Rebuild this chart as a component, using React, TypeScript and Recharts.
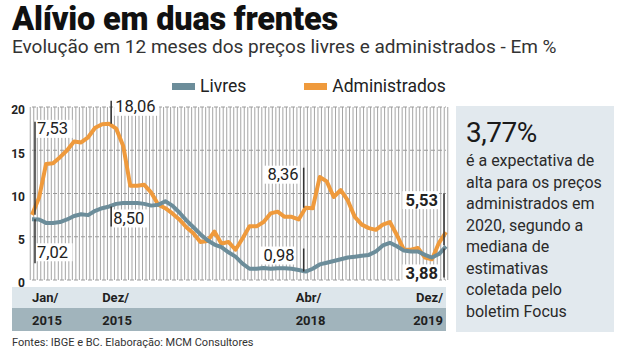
import React from "react";
import { LineChart, Line, XAxis, YAxis, CartesianGrid, Legend } from "recharts";

const months = [
  "Jan/15", "Fev/15", "Mar/15", "Abr/15", "Mai/15", "Jun/15", "Jul/15", "Ago/15", "Set/15", "Out/15", "Nov/15", "Dez/15",
  "Jan/16", "Fev/16", "Mar/16", "Abr/16", "Mai/16", "Jun/16", "Jul/16", "Ago/16", "Set/16", "Out/16", "Nov/16", "Dez/16",
  "Jan/17", "Fev/17", "Mar/17", "Abr/17", "Mai/17", "Jun/17", "Jul/17", "Ago/17", "Set/17", "Out/17", "Nov/17", "Dez/17",
  "Jan/18", "Fev/18", "Mar/18", "Abr/18", "Mai/18", "Jun/18", "Jul/18", "Ago/18", "Set/18", "Out/18", "Nov/18", "Dez/18",
  "Jan/19", "Fev/19", "Mar/19", "Abr/19", "Mai/19", "Jun/19", "Jul/19", "Ago/19", "Set/19", "Out/19", "Nov/19", "Dez/19",
];

const livres = [
  7.02, 7.0, 6.6, 6.6, 6.7, 7.0, 7.4, 7.6, 7.5, 8.0, 8.3, 8.5,
  8.8, 8.9, 8.9, 8.9, 8.8, 8.6, 8.7, 9.1, 8.6, 7.8, 6.9, 6.1,
  5.3, 4.6, 4.1, 3.8, 3.2, 2.7, 1.9, 1.3, 1.3, 1.4, 1.3, 1.35,
  1.35, 1.3, 1.15, 0.98, 1.3, 1.8, 2.0, 2.2, 2.4, 2.6, 2.7, 2.8,
  2.9, 3.3, 4.0, 4.3, 3.9, 3.4, 3.3, 3.3, 2.9, 2.6, 3.0, 3.88,
];

const administrados = [
  7.53, 9.5, 13.4, 13.5, 14.2, 15.0, 16.0, 15.9, 16.5, 17.6, 18.0, 18.06,
  17.5, 15.5, 10.9, 10.9, 11.0, 10.1, 8.7, 8.3, 7.7, 7.0, 6.1, 5.4,
  4.4, 4.5, 5.6, 4.2, 4.4, 3.5, 4.8, 6.2, 6.2, 6.7, 7.7, 7.9,
  7.3, 7.3, 7.0, 8.36, 8.3, 11.9, 11.4, 9.6, 10.4, 9.2, 7.3, 6.4,
  6.0, 5.8, 6.4, 6.7, 5.2, 3.5, 3.5, 3.7, 2.6, 2.4, 4.3, 5.53,
];

const yTicks = [0, 5, 10, 15, 20];

const xLabels: Record<string, [string, string]> = {
  "Jan/15": ["Jan/", "2015"],
  "Dez/15": ["Dez/", "2015"],
  "Abr/18": ["Abr/", "2018"],
  "Dez/19": ["Dez/", "2019"],
};

const seriesOrder = ["Livres", "Administrados"];
const BLUE = "#6c8d9a";
const ORANGE = "#ef9a3c";
const FONT = "Roboto, 'Liberation Sans', sans-serif";

const data = months.map((m, i) => ({ m, livres: livres[i], adm: administrados[i] }));

const tickPlace: Record<string, { anchor: "start" | "end"; dx: number }> = {
  "Jan/15": { anchor: "start", dx: 0 },
  "Dez/15": { anchor: "start", dx: -7 },
  "Abr/18": { anchor: "start", dx: -10 },
  "Dez/19": { anchor: "end", dx: -3 },
};

function MonthTick({ x, y, payload }: any) {
  const lab = xLabels[payload?.value];
  if (!lab) return <g />;
  const p = tickPlace[payload.value];
  return (
    <g fontFamily={FONT} fontWeight={700} fontSize={13} fill="#1f1f1f">
      <text x={x + p.dx} y={y + 17} textAnchor={p.anchor} dominantBaseline="central">
        {lab[0]}
      </text>
      <text x={x + p.dx} y={y + 40} textAnchor={p.anchor} dominantBaseline="central">
        {lab[1]}
      </text>
    </g>
  );
}

type Note = {
  i: number;
  y1: number;
  y2: number;
  dx: number;
  tx: number;
  ty: number;
  anchor: "start" | "end";
  bold?: boolean;
};

const admNotes: Note[] = [
  { i: 0, y1: -93, y2: 0, dx: 3, tx: 5, ty: -86, anchor: "start" },
  { i: 11, y1: -23, y2: 0, dx: 2, tx: 6, ty: -17, anchor: "start" },
  { i: 39, y1: -40, y2: 0, dx: -2, tx: -7, ty: -33, anchor: "end" },
  { i: 59, y1: -39, y2: 13, dx: -2, tx: -8, ty: -32, anchor: "end", bold: true },
];

const livNotes: Note[] = [
  { i: 0, y1: 0, y2: 44, dx: 3, tx: 5, ty: 33, anchor: "start" },
  { i: 11, y1: 0, y2: 20, dx: 2, tx: 4, ty: 12, anchor: "start" },
  { i: 39, y1: -23, y2: 0, dx: -2, tx: -11, ty: -16, anchor: "end" },
  { i: 59, y1: 2, y2: 31, dx: -2, tx: -8, ty: 27, anchor: "end", bold: true },
];

function noteDot(notes: Note[], values: number[]) {
  return (props: any) => {
    const { cx, cy, index } = props;
    const n = notes.find((k) => k.i === index);
    if (!n || cx == null || cy == null) return <g key={`d${index}`} />;
    const label = values[index].toFixed(2).replace(".", ",");
    const w = label.length * 8.4 + 3;
    const tx = cx + n.tx;
    const rx = n.anchor === "start" ? tx - 1 : tx - w + 1;
    return (
      <g key={`d${index}`}>
        <rect x={rx} y={cy + n.ty - 9} width={w} height={18} fill="#fff" />
        <line
          x1={cx + n.dx}
          x2={cx + n.dx}
          y1={cy + n.y1}
          y2={cy + n.y2}
          stroke="#333"
          strokeWidth={1.5}
        />
        <text
          x={tx}
          y={cy + n.ty}
          textAnchor={n.anchor}
          dominantBaseline="central"
          fontFamily={FONT}
          fontSize={16.5}
          fontWeight={n.bold ? 700 : 400}
          fill="#222"
        >
          {label}
        </text>
      </g>
    );
  };
}

function LegendBox({ payload }: any) {
  const items = [...(payload ?? [])].sort(
    (a: any, b: any) => seriesOrder.indexOf(a.value) - seriesOrder.indexOf(b.value)
  );
  return (
    <div style={{ display: "flex", alignItems: "center", fontFamily: FONT, fontSize: 17.5, color: "#222" }}>
      {items.map((it: any) => (
        <div key={it.value} style={{ display: "flex", alignItems: "center", marginRight: 58 }}>
          <span style={{ width: 23, height: 7, background: it.color, marginRight: 5, display: "inline-block" }} />
          <span>{it.value}</span>
        </div>
      ))}
    </div>
  );
}

export default function App() {
  return (
    <div
      style={{
        position: "absolute",
        left: 0,
        top: 0,
        width: 628,
        height: 350,
        overflow: "hidden",
        background: "#fff",
        fontFamily: FONT,
      }}
    >
      <div style={{ position: "absolute", left: 12, top: 0, fontSize: 32.5, fontWeight: 900, color: "#111", lineHeight: "38px", letterSpacing: -0.2 }}>
        Alívio em duas frentes
      </div>
      <div style={{ position: "absolute", left: 12, top: 35, fontSize: 19, color: "#333", lineHeight: "24px", whiteSpace: "nowrap" }}>
        Evolução em 12 meses dos preços livres e administrados - Em %
      </div>

      <div style={{ position: "absolute", left: 12, top: 287, width: 434, height: 21, background: "#dde6eb" }} />
      <div style={{ position: "absolute", left: 12, top: 308, width: 434, height: 23, background: "#a1b4bc" }} />

      <div style={{ position: "absolute", left: 0, top: 0 }}>
        <LineChart width={460} height={340} data={data} margin={{ top: 107, right: 14, bottom: 9, left: 12 }}>
          <CartesianGrid horizontal={false} stroke="#a5a5a5" strokeWidth={4.5} xAxisId="x" yAxisId="y" />
          <CartesianGrid horizontal={false} stroke="#ffffff" strokeWidth={2.5} xAxisId="x" yAxisId="y" />
          <CartesianGrid vertical={false} stroke="#9a9a9a" strokeWidth={1} strokeDasharray="4 3" xAxisId="x" yAxisId="y" />
          <XAxis
            xAxisId="x"
            dataKey="m"
            interval={0}
            axisLine={false}
            tickLine={false}
            tickSize={0}
            tickMargin={0}
            height={51}
            tick={<MonthTick />}
          />
          <YAxis
            yAxisId="y"
            domain={[0, 20]}
            ticks={yTicks}
            width={20}
            axisLine={false}
            tickLine={false}
            tickSize={0}
            tickMargin={7}
            tick={{ fontFamily: FONT, fontSize: 12, fontWeight: 700, fill: "#222", dy: 3 }}
          />
          <Legend
            verticalAlign="middle"
            content={<LegendBox />}
            wrapperStyle={{ top: 76, left: 172, width: 320, height: 20 }}
          />
          <Line
            xAxisId="x"
            yAxisId="y"
            name="Administrados"
            dataKey="adm"
            stroke={ORANGE}
            strokeWidth={4}
            strokeLinejoin="round"
            type="linear"
            dot={noteDot(admNotes, administrados)}
            activeDot={false}
            isAnimationActive={false}
          />
          <Line
            xAxisId="x"
            yAxisId="y"
            name="Livres"
            dataKey="livres"
            stroke={BLUE}
            strokeWidth={4}
            strokeLinejoin="round"
            type="linear"
            dot={noteDot(livNotes, livres)}
            activeDot={false}
            isAnimationActive={false}
          />
        </LineChart>
      </div>

      <div
        style={{
          position: "absolute",
          left: 456,
          top: 106,
          width: 158,
          height: 226,
          background: "#e2e9ee",
          color: "#2a2a2a",
          boxSizing: "border-box",
          padding: "10px 0 0 10px",
        }}
      >
        <div style={{ fontSize: 28, lineHeight: "34px", letterSpacing: -0.5, color: "#1a1a1a" }}>3,77%</div>
        <div style={{ fontSize: 16, lineHeight: "21.5px", whiteSpace: "nowrap" }}>
          é a expectativa de
          <br />
          alta para os preços
          <br />
          administrados em
          <br />
          2020, segundo a
          <br />
          mediana de
          <br />
          estimativas
          <br />
          coletada pelo
          <br />
          boletim Focus
        </div>
      </div>

      <div style={{ position: "absolute", left: 12, top: 336, fontSize: 11, lineHeight: "13px", color: "#333", whiteSpace: "nowrap" }}>
        Fontes: IBGE e BC. Elaboração: MCM Consultores
      </div>
    </div>
  );
}
